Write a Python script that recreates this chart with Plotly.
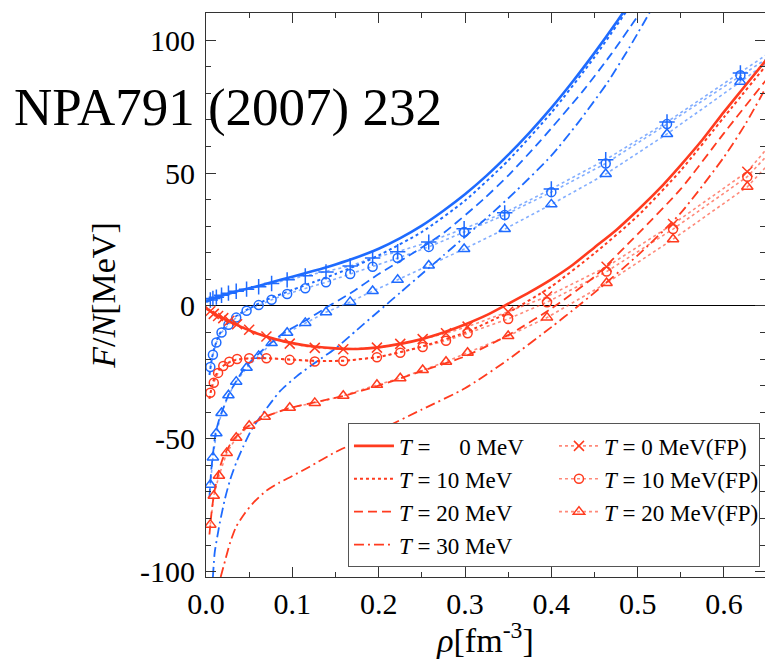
import plotly.graph_objects as go

# ---------------- data ----------------
# symmetric matter (red) smooth curves
rho_r0 = [0.0, 0.01, 0.02, 0.04, 0.06, 0.08, 0.10, 0.125, 0.15, 0.175, 0.20, 0.225, 0.25, 0.275,
          0.30, 0.325, 0.35, 0.375, 0.40, 0.425, 0.45, 0.475, 0.50, 0.525, 0.55, 0.575, 0.60, 0.625, 0.65]
f_r0 = [-1.0, -3.0, -4.7, -7.8, -10.5, -12.5, -14.0, -15.3, -16.0, -16.2, -15.6, -14.3, -12.5, -10.0,
        -7.0, -3.5, 0.8, 5.2, 10.0, 15.5, 22.0, 28.5, 36.0, 44.0, 53.0, 62.5, 73.0, 83.0, 93.0]

rho_r10 = [0.004, 0.007, 0.01, 0.015, 0.02, 0.03, 0.04, 0.05, 0.07, 0.10, 0.13, 0.16, 0.20, 0.25,
           0.30, 0.35, 0.40, 0.45, 0.50, 0.55, 0.60, 0.65]
f_r10 = [-35, -30, -27, -24, -22.5, -20.8, -20.1, -19.8, -19.7, -20.2, -20.7, -20.6, -19.2, -15.3,
         -10.0, -2.5, 7.3, 19.8, 33.8, 51, 71, 91]

rho_r20 = [0.004, 0.007, 0.01, 0.015, 0.02, 0.03, 0.04, 0.05, 0.07, 0.10, 0.13, 0.16, 0.20, 0.25,
           0.30, 0.35, 0.40, 0.45, 0.50, 0.55, 0.60, 0.65]
f_r20 = [-86, -76, -69.5, -62, -57, -51, -47.5, -45, -41.5, -38.2, -36, -33.8, -30, -24.5,
         -19, -11, -1, 11, 27, 44, 65, 85.5]

rho_r30 = [0.017, 0.022, 0.028, 0.035, 0.045, 0.055, 0.07, 0.085, 0.10, 0.12, 0.15, 0.18, 0.20,
           0.25, 0.30, 0.35, 0.40, 0.43, 0.45, 0.50, 0.55, 0.60, 0.625, 0.65]
f_r30 = [-102, -96, -89, -83, -78, -74, -69.5, -66.5, -64, -60.5, -55, -50.5, -47,
         -39, -31, -20.2, -8, -0.3, 5, 19, 35, 56, 68.5, 83]

# neutron matter (blue) smooth curves
rho_b0 = [0.0, 0.01, 0.02, 0.035, 0.05, 0.075, 0.10, 0.125, 0.15, 0.175, 0.20, 0.225, 0.25, 0.275,
          0.30, 0.325, 0.35, 0.375, 0.40, 0.425, 0.45, 0.475, 0.50]
f_b0 = [1.5, 3.0, 4.0, 5.4, 6.6, 8.8, 11.0, 13.2, 15.6, 18.3, 21.5, 25.5, 30.2, 35.8,
        42.0, 49.0, 56.8, 65.3, 74.5, 84.5, 95.2, 106.5, 118.5]

rho_b10 = [0.004, 0.007, 0.01, 0.015, 0.02, 0.03, 0.04, 0.05, 0.07, 0.10, 0.125, 0.15, 0.175, 0.20,
           0.25, 0.30, 0.35, 0.40, 0.45, 0.50]
f_b10 = [-26, -19.5, -15.5, -11, -8.5, -5, -2.8, -1.0, 2.3, 6.0, 9.0, 12.0, 15.3, 19.0,
         27.8, 39.6, 54.7, 72.7, 93.6, 117]

rho_b20 = [0.004, 0.006, 0.008, 0.011, 0.015, 0.02, 0.026, 0.035, 0.045, 0.06, 0.075, 0.09, 0.117,
           0.14, 0.17, 0.20, 0.233, 0.275, 0.321, 0.35, 0.387, 0.437, 0.47, 0.50]
f_b20 = [-72, -62, -56, -48, -43, -38.5, -33.5, -28.3, -23.3, -18.3, -14, -10.2, -5.2,
         -0.5, 5.3, 12, 18.5, 27.4, 40, 49, 62, 81, 95, 109]

rho_b30 = [0.008, 0.01, 0.013, 0.016, 0.022, 0.028, 0.035, 0.043, 0.052, 0.063, 0.075, 0.086, 0.105,
           0.128, 0.15, 0.175, 0.20, 0.225, 0.25, 0.275, 0.30, 0.33, 0.36, 0.40, 0.43, 0.465, 0.49, 0.515]
f_b30 = [-102, -93, -87, -81.6, -72.5, -65.4, -59, -53, -47, -41.7, -36.5, -32, -26.5,
         -21, -16, -9, -2, 5, 12, 19, 26, 34.5, 43.5, 56.5, 68.5, 84, 97, 111]

# FP points (blue)
rho_b_fp = [0.005, 0.008, 0.012, 0.018, 0.026, 0.035, 0.047, 0.061, 0.076, 0.094, 0.115, 0.139,
            0.167, 0.193, 0.222, 0.258, 0.299, 0.346, 0.400, 0.463, 0.534, 0.619, 0.72]
f_b0_fp = [2.2, 2.8, 3.3, 4.0, 4.8, 5.5, 6.3, 7.2, 8.4, 9.8, 11.3, 12.8,
           15.0, 18.0, 20.4, 24.0, 29.0, 35.0, 44.0, 55.0, 69.2, 87.6, 110]
f_b10_fp = [-23.0, -18.4, -13.8, -10.0, -7.1, -4.4, -1.8, 0.3, 2.3, 4.5, 6.6, 8.9,
            12.0, 14.7, 18.0, 22.2, 27.8, 34.2, 42.8, 53.6, 68.4, 86.8, 108]
f_b20_fp = [-67.3, -57.0, -47.9, -40.3, -33.6, -28.5, -23.3, -18.8, -14.0, -10.1, -6.4, -2.4,
            1.5, 5.6, 9.8, 15.2, 21.4, 28.9, 38.2, 49.6, 64.7, 84.3, 108]

# FP points (red)
rho_r_fp = [0.005, 0.009, 0.014, 0.02, 0.027, 0.036, 0.05, 0.07, 0.097, 0.126, 0.159, 0.198,
            0.225, 0.251, 0.278, 0.303, 0.35, 0.395, 0.464, 0.541, 0.627, 0.72]
f_r0_fp = [-2.0, -3.0, -3.8, -4.6, -5.6, -6.9, -9.0, -11.5, -14.2, -15.8, -16.3, -15.7,
           -14.3, -12.5, -10.3, -7.8, -2.2, 3.5, 14.7, 30.8, 50.5, 86]
f_r10_fp = [-32.7, -28.9, -25.2, -22.6, -21.0, -20.0, -19.7, -19.7, -20.3, -20.9, -20.7, -19.3,
            -17.6, -15.5, -13.1, -10.3, -4.9, 1.4, 12.9, 28.9, 48.6, 81]
rho_r20_fp = [0.005, 0.009, 0.015, 0.024, 0.035, 0.05, 0.068, 0.097, 0.126, 0.159, 0.198,
              0.225, 0.251, 0.278, 0.303, 0.35, 0.395, 0.464, 0.541, 0.627, 0.72]
f_r20_fp = [-82.3, -71.4, -63.9, -55.3, -49.6, -45.1, -41.7, -38.3, -36.5, -33.8, -29.7,
            -27.2, -24.1, -21.0, -17.6, -11.3, -4.4, 8.6, 25.1, 44.8, 77]

x_ticks = [0.0, 0.1, 0.2, 0.3, 0.4, 0.5, 0.6]
x_ticktext = ['0.0', '0.1', '0.2', '0.3', '0.4', '0.5', '0.6']
y_ticks = [-100, -50, 0, 50, 100]
y_ticktext = ['-100', '-50', '0', '50', '100']

legend_names = {
    'T0': '<i>T</i> = \u2007\u20070 MeV',
    'T10': '<i>T</i> = 10 MeV',
    'T20': '<i>T</i> = 20 MeV',
    'T30': '<i>T</i> = 30 MeV',
    'T0FP': '<i>T</i> = 0 MeV(FP)',
    'T10FP': '<i>T</i> = 10 MeV(FP)',
    'T20FP': '<i>T</i> = 20 MeV(FP)',
}

# ---------------- styles ----------------
RED = '#FF3B1F'
BLUE = '#1E6BFF'
RED_FP = 'rgba(255,59,31,0.6)'
BLUE_FP = 'rgba(30,107,255,0.55)'
FONT = 'Liberation Serif'
DASH = '9px,5px'
DASHDOT = '10px,4px,2px,4px'

fig = go.Figure()


def smooth(x, y, color, dash, width, name=None, show=False):
    fig.add_trace(go.Scatter(x=x, y=y, mode='lines', name=name, showlegend=show,
                             line=dict(color=color, dash=dash, width=width,
                                       shape='spline', smoothing=0.6)))


def fp(x, y, color, lcolor, symbol, size, name=None, show=False):
    fig.add_trace(go.Scatter(x=x, y=y, mode='lines+markers', name=name, showlegend=show,
                             line=dict(color=lcolor, dash='dot', width=1.6),
                             marker=dict(symbol=symbol, size=size, color=color,
                                         line=dict(color=color, width=1.5))))


# blue (no legend)
smooth(rho_b0, f_b0, BLUE, 'solid', 2.6)
smooth(rho_b10, f_b10, BLUE, 'dot', 2.0)
smooth(rho_b20, f_b20, BLUE, DASH, 1.8)
smooth(rho_b30, f_b30, BLUE, DASHDOT, 1.8)
fp(rho_b_fp, f_b0_fp, BLUE, BLUE_FP, 'cross-thin-open', 11)
fp(rho_b_fp, f_b10_fp, BLUE, BLUE_FP, 'circle-open', 9)
fp(rho_b_fp, f_b20_fp, BLUE, BLUE_FP, 'triangle-up-open', 10)

# red (legend), ordered for two-column horizontal legend
smooth(rho_r0, f_r0, RED, 'solid', 2.6, legend_names['T0'], True)
fp(rho_r_fp, f_r0_fp, RED, RED_FP, 'x-thin-open', 10, legend_names['T0FP'], True)
smooth(rho_r10, f_r10, RED, 'dot', 2.0, legend_names['T10'], True)
fp(rho_r_fp, f_r10_fp, RED, RED_FP, 'circle-open', 9, legend_names['T10FP'], True)
smooth(rho_r20, f_r20, RED, DASH, 1.8, legend_names['T20'], True)
fp(rho_r20_fp, f_r20_fp, RED, RED_FP, 'triangle-up-open', 10, legend_names['T20FP'], True)
smooth(rho_r30, f_r30, RED, DASHDOT, 1.8, legend_names['T30'], True)

axis_common = dict(
    showgrid=False, showline=True, linecolor='#333', linewidth=1, mirror='allticks',
    ticks='inside', ticklen=10, tickcolor='#333', tickwidth=1,
    tickfont=dict(family=FONT, size=30, color='black'),
)

fig.update_layout(
    width=765, height=659,
    margin=dict(l=206, r=0, t=13, b=82),
    paper_bgcolor='white', plot_bgcolor='white',
    font=dict(family=FONT, color='black'),
    xaxis=dict(range=[0, 0.6475], tickvals=x_ticks, ticktext=x_ticktext, zeroline=False,
               minor=dict(dtick=0.05, tick0=0, ticks='inside', ticklen=5, tickcolor='#333', showgrid=False),
               title=dict(text='<i>ρ</i>[fm<sup>-3</sup>]', font=dict(family=FONT, size=34), standoff=6),
               **axis_common),
    yaxis=dict(range=[-102, 110.2], tickvals=y_ticks, ticktext=y_ticktext,
               zeroline=True, zerolinecolor='black', zerolinewidth=1,
               minor=dict(dtick=10, tick0=0, ticks='inside', ticklen=5, tickcolor='#333', showgrid=False),
               title=dict(text='<i>F</i>/<i>N</i>[MeV]', font=dict(family=FONT, size=34), standoff=14),
               ticklabelstandoff=4,
               **axis_common),
    legend=dict(orientation='h', x=0.991, xanchor='right', y=0.017, yanchor='bottom',
                bgcolor='white', bordercolor='#555', borderwidth=1,
                font=dict(family=FONT, size=23, color='black'),
                itemwidth=40, entrywidth=150, tracegroupgap=0),
    annotations=[dict(text='NPA791 (2007) 232', xref='paper', yref='paper',
                      x=-0.347, y=0.8316, xanchor='left', yanchor='middle', showarrow=False,
                      font=dict(family=FONT, size=53, color='black'))],
)

fig.write_html('out.html')
